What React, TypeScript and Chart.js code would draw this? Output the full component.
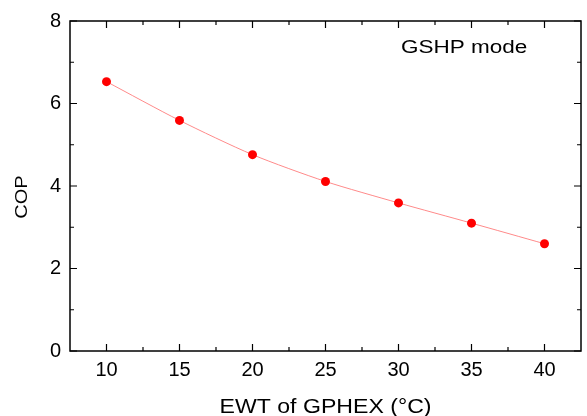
import React, { useEffect, useRef } from "react";
import { Chart, registerables } from "chart.js";

Chart.register(...registerables);

const ewt = [10, 15, 20, 25, 30, 35, 40];
const cop = [6.53, 5.59, 4.76, 4.11, 3.59, 3.1, 2.6];
const xMajorTicks = [10, 15, 20, 25, 30, 35, 40];
const xMinorTicks = [12.5, 17.5, 22.5, 27.5, 32.5, 37.5];
const yMajorTicks = [0, 2, 4, 6, 8];
const yMinorTicks = [1, 3, 5, 7];
const xTitle = "EWT of GPHEX (°C)";
const yTitle = "COP";
const note = "GSHP mode";

const FONT = "Arial, 'Liberation Sans', sans-serif";

const framePlugin = {
  id: "frameTicks",
  afterDraw(chart: any) {
    const { ctx, chartArea } = chart;
    const { left, right, top, bottom } = chartArea;
    const xs = chart.scales.x;
    const ys = chart.scales.y;
    ctx.save();
    ctx.strokeStyle = "#000";
    ctx.lineWidth = 1.5;
    ctx.strokeRect(left, top, right - left, bottom - top);
    ctx.lineWidth = 1.2;
    const major = 7;
    const minor = 4;
    ctx.beginPath();
    const xt = (v: number, len: number) => {
      const px = xs.getPixelForValue(v);
      ctx.moveTo(px, bottom);
      ctx.lineTo(px, bottom - len);
      ctx.moveTo(px, top);
      ctx.lineTo(px, top + len);
    };
    const yt = (v: number, len: number) => {
      const py = ys.getPixelForValue(v);
      ctx.moveTo(left, py);
      ctx.lineTo(left + len, py);
      ctx.moveTo(right, py);
      ctx.lineTo(right - len, py);
    };
    xMajorTicks.forEach((v) => xt(v, major));
    xMinorTicks.forEach((v) => xt(v, minor));
    yMajorTicks.forEach((v) => yt(v, major));
    yMinorTicks.forEach((v) => yt(v, minor));
    ctx.stroke();

    ctx.fillStyle = "#000";
    // x title
    ctx.save();
    ctx.translate((left + right) / 2, 413);
    ctx.scale(1.1, 1);
    ctx.font = `21px ${FONT}`;
    ctx.textAlign = "center";
    ctx.textBaseline = "alphabetic";
    ctx.fillText(xTitle, 0, 0);
    ctx.restore();
    // y title
    ctx.save();
    ctx.translate(27, 197);
    ctx.rotate(-Math.PI / 2);
    ctx.scale(1.25, 1);
    ctx.font = `16px ${FONT}`;
    ctx.textAlign = "center";
    ctx.textBaseline = "alphabetic";
    ctx.fillText(yTitle, 0, 0);
    ctx.restore();
    // note
    ctx.save();
    ctx.translate(401, 53);
    ctx.scale(1.25, 1);
    ctx.font = `18px ${FONT}`;
    ctx.textAlign = "left";
    ctx.textBaseline = "alphabetic";
    ctx.fillText(note, 0, 0);
    ctx.restore();
    ctx.restore();
  },
};

export default function App() {
  const ref = useRef<HTMLCanvasElement>(null);
  useEffect(() => {
    if (!ref.current) return;
    const chart = new Chart(ref.current, {
      type: "line",
      data: {
        datasets: [
          {
            data: ewt.map((x, i) => ({ x, y: cop[i] })),
            borderColor: "#ff8a8a",
            borderWidth: 1,
            tension: 0.25,
            pointRadius: 4.5,
            pointBackgroundColor: "#ff0000",
            pointBorderWidth: 0,
            pointBorderColor: "#ff0000",
          },
        ],
      },
      options: {
        responsive: false,
        animation: false,
        devicePixelRatio: 1,
        layout: { padding: { left: 0, top: 16, right: 6, bottom: 0 } },
        plugins: { legend: { display: false }, tooltip: { enabled: false } },
        scales: {
          x: {
            type: "linear",
            min: 7.5,
            max: 42.5,
            grid: { display: false, drawTicks: false },
            border: { display: false },
            afterBuildTicks: (s: any) => {
              s.ticks = xMajorTicks.map((v) => ({ value: v }));
            },
            afterFit: (s: any) => {
              s.height = 65;
            },
            ticks: {
              color: "#000",
              padding: 7,
              maxRotation: 0,
              font: { size: 20, family: FONT },
            },
          },
          y: {
            type: "linear",
            min: 0,
            max: 8,
            grid: { display: false, drawTicks: false },
            border: { display: false },
            afterBuildTicks: (s: any) => {
              s.ticks = yMajorTicks.map((v) => ({ value: v }));
            },
            afterFit: (s: any) => {
              s.width = 70;
            },
            ticks: {
              color: "#000",
              padding: 9,
              font: { size: 20, family: FONT },
            },
          },
        },
      },
      plugins: [framePlugin],
    });
    return () => chart.destroy();
  }, []);
  return (
    <div style={{ position: "absolute", left: 0, top: 0, width: 587, height: 416, background: "#fff" }}>
      <canvas ref={ref} width={587} height={416} />
    </div>
  );
}
